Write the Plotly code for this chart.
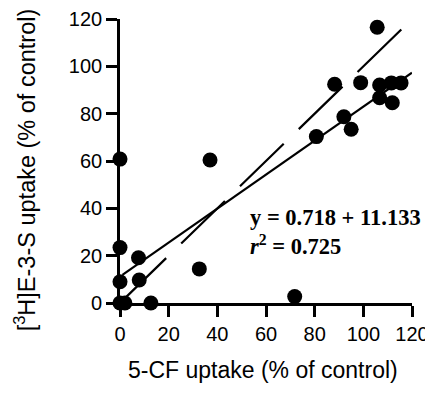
import plotly.graph_objects as go

# Data
cf_uptake = [0, 37, 105.7, 88.2, 98.9, 106.7, 111.5, 115.5, 106.7, 111.9, 92, 95, 80.7,
             0, 7.6, 0, 7.9, 0, 2, 12.7, 32.6, 71.8]
es_uptake = [60.8, 60.4, 116.5, 92.4, 93.1, 92.1, 93, 93, 86.7, 84.6, 78.7, 73.4, 70.3,
             23.4, 19.1, 9, 9.7, 0, 0, 0, 14.4, 2.7]

slope = 0.718
intercept = 11.133
fit_x = [1, 120]
identity_x = [1, 115.8]

x_ticks = [0, 20, 40, 60, 80, 100, 120]
y_ticks = [0, 20, 40, 60, 80, 100, 120]

fig = go.Figure()

fig.add_trace(go.Scatter(
    x=identity_x, y=identity_x, mode="lines",
    line=dict(color="black", width=2.2, dash="61px,21px"),
    showlegend=False, cliponaxis=False))

fig.add_trace(go.Scatter(
    x=fit_x, y=[slope * v + intercept for v in fit_x], mode="lines",
    line=dict(color="black", width=2.2),
    showlegend=False, cliponaxis=False))

fig.add_trace(go.Scatter(
    x=cf_uptake, y=es_uptake, mode="markers",
    marker=dict(color="black", size=15, line=dict(width=0)),
    showlegend=False, cliponaxis=False))

axis_common = dict(
    showgrid=False, zeroline=False, showline=True, linecolor="black", linewidth=2.6,
    ticks="outside", ticklen=11, tickwidth=2.6, tickcolor="black",
    ticklabeloverflow="allow", automargin=False,
    tickfont=dict(family="Liberation Sans, Arial", size=20, color="black"),
)

fig.update_xaxes(range=[0, 120], tickvals=x_ticks, **axis_common)
fig.update_yaxes(range=[0, 120], tickvals=y_ticks, **axis_common)

fig.add_annotation(
    text="<b>y = 0.718 + 11.133</b><br><b><i>r</i><sup>2</sup> = 0.725</b>",
    x=52.5, y=29.8, xref="x", yref="y", xanchor="left", yanchor="middle",
    align="left", showarrow=False,
    font=dict(family="Liberation Serif, Times New Roman", size=22.5, color="black"))

fig.add_annotation(
    text="5-CF uptake (% of control)", xref="paper", yref="paper",
    x=0.49, y=-0.236, xanchor="center", yanchor="middle", showarrow=False,
    font=dict(family="Liberation Sans, Arial", size=23, color="black"))

fig.add_annotation(
    text="[<sup>3</sup>H]E-3-S uptake (% of control)", xref="paper", yref="paper",
    x=-0.326, y=0.47, xanchor="center", yanchor="middle", textangle=-90,
    showarrow=False,
    font=dict(family="Liberation Sans, Arial", size=23.5, color="black"))

# page body adds an 8px margin on every side; keep the figure well inside the
# 433x400 window (no scrollbars) and place the plot area where the reference has it
fig.update_layout(
    width=417, height=376,
    margin=dict(l=112, r=13, t=11, b=81, autoexpand=False),
    plot_bgcolor="white", paper_bgcolor="white",
)

fig.write_html("out.html")
